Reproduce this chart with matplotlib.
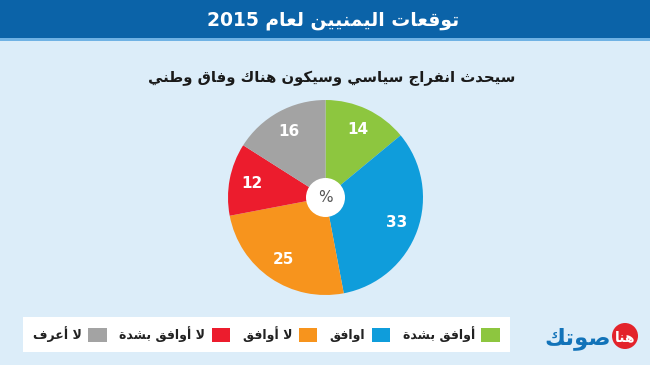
import re

import matplotlib
matplotlib.use("Agg")
import matplotlib.pyplot as plt
from matplotlib.patches import Rectangle, Circle, Patch

# data (clockwise from 12 o'clock)
categories = ["أوافق بشدة", "اوافق", "لا أوافق", "لا أوافق بشدة", "لا أعرف"]
values = [14, 33, 25, 12, 16]
colors = ["#8dc63f", "#0f9ddb", "#f7941d", "#ec1c2d", "#a3a3a3"]

title = "توقعات اليمنيين لعام 2015"
subtitle = "سيحدث انفراج سياسي وسيكون هناك وفاق وطني"
logo_a = "هنا"
logo_b = "صوتك"

# minimal arabic shaping (matplotlib has no bidi / joining)
DUAL = {'ب': 0xFE8F, 'ت': 0xFE95, 'ث': 0xFE99, 'ج': 0xFE9D, 'ح': 0xFEA1, 'خ': 0xFEA5,
        'س': 0xFEB1, 'ش': 0xFEB5, 'ص': 0xFEB9, 'ض': 0xFEBD, 'ط': 0xFEC1, 'ظ': 0xFEC5,
        'ع': 0xFEC9, 'غ': 0xFECD, 'ف': 0xFED1, 'ق': 0xFED5, 'ك': 0xFED9, 'ل': 0xFEDD,
        'م': 0xFEE1, 'ن': 0xFEE5, 'ه': 0xFEE9, 'ي': 0xFEF1, 'ئ': 0xFE89}
RIGHT = {'ا': 0xFE8D, 'أ': 0xFE83, 'إ': 0xFE87, 'آ': 0xFE81, 'ؤ': 0xFE85, 'د': 0xFEA9,
         'ذ': 0xFEAB, 'ر': 0xFEAD, 'ز': 0xFEAF, 'و': 0xFEED, 'ة': 0xFE93, 'ى': 0xFEEF}
LAM_ALEF = {'ا': 0xFEFB, 'أ': 0xFEF7, 'إ': 0xFEF9, 'آ': 0xFEF5}


def ar(s):
    out = []
    i = 0
    n = len(s)
    while i < n:
        c = s[i]
        link_prev = i > 0 and s[i - 1] in DUAL
        if c == 'ل' and i + 1 < n and s[i + 1] in LAM_ALEF:
            out.append(chr(LAM_ALEF[s[i + 1]] + (1 if link_prev else 0)))
            i += 2
            continue
        nxt = s[i + 1] if i + 1 < n else ''
        link_next = nxt in DUAL or nxt in RIGHT
        if c in DUAL:
            b = DUAL[c]
            if link_prev and link_next:
                out.append(chr(b + 3))
            elif link_prev:
                out.append(chr(b + 1))
            elif link_next:
                out.append(chr(b + 2))
            else:
                out.append(chr(b))
        elif c in RIGHT:
            out.append(chr(RIGHT[c] + (1 if link_prev else 0)))
        else:
            out.append(c)
        i += 1
    vis = ''.join(out)[::-1]
    return re.sub(r'[0-9]+', lambda m: m.group(0)[::-1], vis)


plt.rcParams['font.family'] = ['DejaVu Sans']
W, H = 650, 365
fig = plt.figure(figsize=(W / 100, H / 100), dpi=100)
fig.patch.set_facecolor("#dcedf9")

# overlay axes in pixel units for header, titles and logo
bg = fig.add_axes([0, 0, 1, 1])
bg.set_xlim(0, W)
bg.set_ylim(H, 0)
bg.axis("off")
bg.add_patch(Rectangle((0, 0), W, 38, facecolor="#0b63a8", edgecolor="none"))
bg.add_patch(Rectangle((0, 38), W, 2.5, facecolor="#6fb2e4", edgecolor="none"))
bg.text(333, 21, ar(title), color="white", fontsize=13.5, fontweight="bold",
        ha="center", va="center")
bg.text(332, 78, ar(subtitle), color="#1a1a1a", fontsize=10.7, fontweight="bold",
        ha="center", va="center")

# logo
bg.add_patch(Circle((625, 336), 13, facecolor="#e3232b", edgecolor="none"))
bg.text(625, 337, ar(logo_a), color="white", fontsize=10, fontweight="bold",
        ha="center", va="center")
bg.text(611, 338, ar(logo_b), color="#1273b9", fontsize=16.5, fontweight="bold",
        ha="right", va="center")

# pie
cx, cy, r = 325.5, 197.5, 97.5
ax = fig.add_axes([(cx - r) / W, (H - cy - r) / H, 2 * r / W, 2 * r / H])
wedges, texts = ax.pie(values, colors=colors, startangle=90, counterclock=False,
                       labels=[str(v) for v in values], labeldistance=0.77,
                       wedgeprops=dict(linewidth=0))
for t in texts:
    t.set_color("white")
    t.set_fontsize(11)
    t.set_fontweight("bold")
    t.set_ha("center")
    t.set_va("center")
ax.add_patch(Circle((0, 0), 0.2, facecolor="white", edgecolor="none", zorder=5))
ax.text(0, 0, "%", ha="center", va="center", fontsize=11, color="#555555", zorder=6)
ax.set_xlim(-1, 1)
ax.set_ylim(-1, 1)
ax.set_aspect("equal")
ax.axis("off")

# legend (right-to-left, swatch after text)
handles = [Patch(facecolor=c, edgecolor="none") for c in colors][::-1]
labels = [ar(c) for c in categories][::-1]
leg = fig.legend(handles, labels, ncol=5, markerfirst=False, loc="center",
                 bbox_to_anchor=(266.5 / W, 1 - 334.5 / H), frameon=True, fancybox=False,
                 facecolor="white", edgecolor="none", framealpha=1,
                 prop=dict(size=9, weight="bold"), handlelength=1.5, handleheight=1.35,
                 handletextpad=0.5, columnspacing=1.0, borderpad=0.8)
for t in leg.get_texts():
    t.set_color("#222222")

fig.savefig("out.png", dpi=100, facecolor=fig.get_facecolor())
